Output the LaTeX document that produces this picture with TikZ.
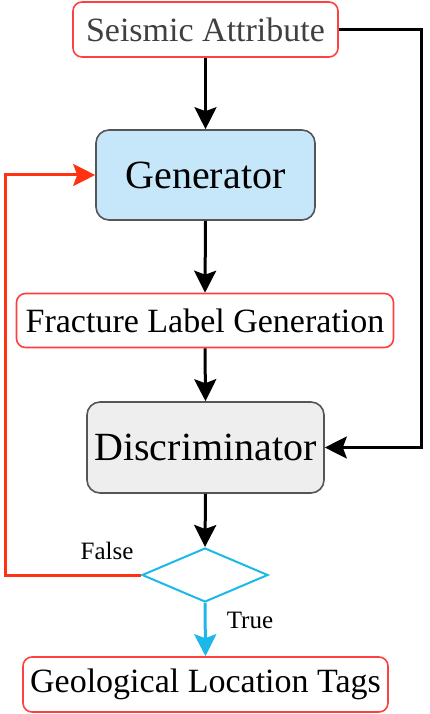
\documentclass[tikz,border=0pt]{standalone}
\usepackage{fontspec}
\setmainfont{Liberation Serif}
\usetikzlibrary{shapes.geometric,arrows.meta,calc}
\definecolor{redb}{HTML}{FF4040}
\definecolor{genfill}{HTML}{C6E6FA}
\definecolor{discfill}{HTML}{EEEEEE}
\definecolor{grayb}{HTML}{555555}
\definecolor{cyanb}{HTML}{1CB8EA}
\definecolor{fbred}{HTML}{FF3311}
\tikzset{
  redbox/.style={draw=redb, line width=1.6pt, rounded corners=9pt, fill=white, inner sep=0pt},
  bigbox/.style={draw=grayb, line width=1.6pt, rounded corners=13pt, inner sep=0pt},
  arr/.style={line width=3pt, -{Stealth[length=22pt,width=22pt,inset=4pt]}},
  lbl/.style={font=\fontsize{25}{29}\selectfont, inner sep=0pt},
}
\begin{document}
\begin{tikzpicture}[x=1pt,y=-1pt]
\useasboundingbox (0,0) rectangle (429,714);
\node[redbox, minimum width=265pt, minimum height=55pt, text=black!75, font=\fontsize{34}{40}\selectfont] (sa) at (205.5,29.5) {Seismic Attribute};
\node[bigbox, fill=genfill, minimum width=219pt, minimum height=90pt, font=\fontsize{40}{46}\selectfont] (gen) at (205.5,175) {Generator};
\node[redbox, minimum width=377pt, minimum height=54pt, font=\fontsize{34}{40}\selectfont] (flg) at (205,320.5) {Fracture Label Generation};
\node[bigbox, fill=discfill, minimum width=237pt, minimum height=91pt, font=\fontsize{40}{46}\selectfont] (disc) at (205.5,447.5) {Discriminator};
\node[draw=cyanb, line width=2pt, shape=diamond, aspect=2.33, inner sep=0pt, minimum width=126pt, minimum height=54pt] (dia) at (205,575) {};
\node[redbox, minimum width=365pt, minimum height=55pt, font=\fontsize{34}{40}\selectfont] (glt) at (205.5,684.5) {Geological Location Tags};
\coordinate (rc) at (421,447.5);
\coordinate (lc) at (5,400);
\draw[arr] (sa.south) -- (gen.north);
\draw[arr] (gen.south) -- (flg.north);
\draw[arr] (flg.south) -- (disc.north);
\draw[arr] (disc.south) -- (dia.north);
\draw[arr] (sa.east) -| (rc) -- (disc.east);
\draw[arr, draw=fbred] (dia.west) -| (lc) |- (gen.west);
\draw[arr, draw=cyanb] (dia.south) -- (glt.north);
\node[lbl] (f) at (107,551) {False};
\node[lbl] (t) at (250,620) {True};
\end{tikzpicture}
\end{document}
